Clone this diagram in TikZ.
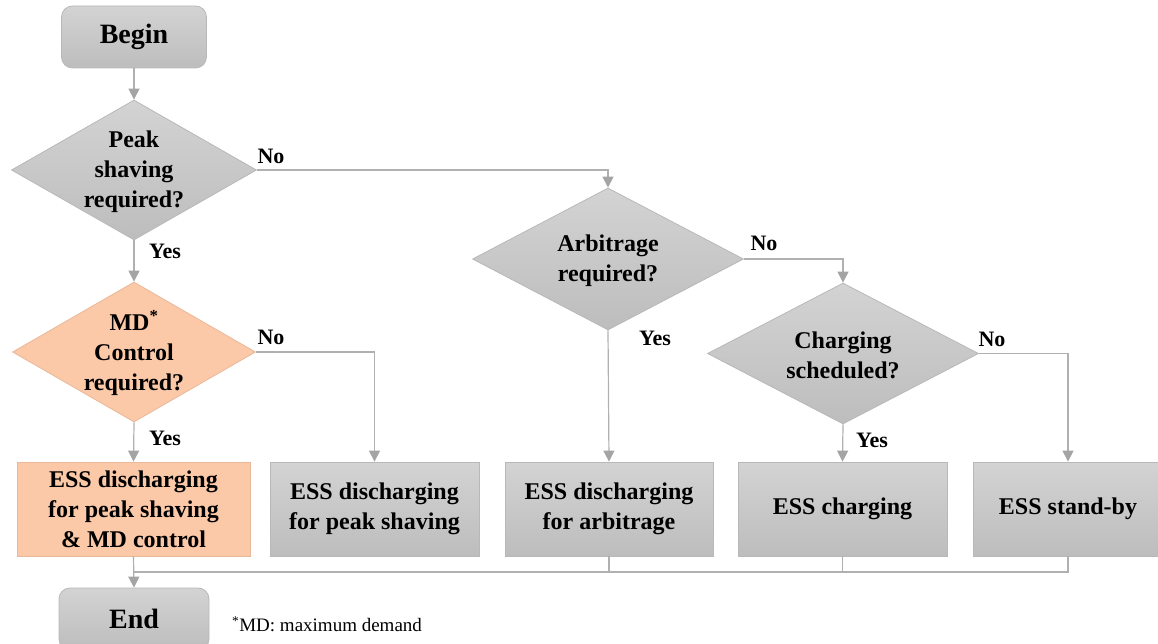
\documentclass[tikz,border=0pt]{standalone}
\usepackage{fontspec}
\setmainfont{LiberationSerif}[Extension=.ttf, UprightFont=*-Regular, BoldFont=*-Bold,
  ItalicFont=*-Italic, BoldItalicFont=*-BoldItalic]
\usetikzlibrary{shapes.geometric,arrows.meta}

\definecolor{boxtop}{HTML}{D3D3D3}
\definecolor{boxbot}{HTML}{BDBDBD}
\definecolor{boxedge}{HTML}{B8B8B8}
\definecolor{peach}{HTML}{FBC8A8}
\definecolor{peachedge}{HTML}{E8B898}
\definecolor{wire}{HTML}{B0B0B0}
\definecolor{tipgray}{HTML}{A4A4A4}

\tikzset{
  boxfont/.style={font=\bfseries\fontsize{24}{30}\selectfont},
  grayfill/.style={top color=boxtop, bottom color=boxbot, draw=boxedge, line width=0.8pt},
  peachfill/.style={fill=peach, draw=peachedge, line width=0.8pt},
  terminal/.style={grayfill, rectangle, rounded corners=11pt, inner sep=0pt,
    font=\bfseries\fontsize{28}{30}\selectfont},
  actionbox/.style={rectangle, inner sep=0pt, minimum height=94pt, align=center, boxfont},
  decision/.style={diamond, inner sep=0pt, align=center},
  dlabel/.style={align=center, boxfont, inner sep=0pt},
  answer/.style={font=\bfseries\fontsize{22}{24}\selectfont, inner sep=0pt},
  flow/.style={draw=wire, line width=1.2pt,
    -{Triangle[width=11pt,length=11pt,fill=tipgray,color=tipgray]}},
  bus/.style={draw=wire, line width=1.2pt},
}

\begin{document}
\begin{tikzpicture}[x=1pt, y=-1pt]
\useasboundingbox (0,0) rectangle (1158,644);
\clip (0,0) rectangle (1158,644);

% terminals
\node[terminal, minimum width=145pt, minimum height=62pt] (begin) at (134,37) {Begin};
\node[terminal, minimum width=150pt, minimum height=62pt] (end) at (134,619) {End};

% decisions
\node[decision, grayfill, minimum width=245pt, minimum height=140pt] (peak) at (134,170)
  {\phantom{x}};
\node[dlabel] (peaktxt) at (134,172) {Peak\\shaving\\required?};

\node[decision, peachfill, minimum width=243pt, minimum height=140pt] (md) at (134,352)
  {\phantom{x}};
\node[dlabel] (mdtxt) at (134,353) {MD\textsuperscript{*}\\Control\\required?};

\node[decision, grayfill, minimum width=271pt, minimum height=142pt] (arb) at (608,259)
  {\phantom{x}};
\node[dlabel] (arbtxt) at (608,261) {Arbitrage\\required?};

\node[decision, grayfill, minimum width=271pt, minimum height=141pt] (chg) at (843,353.5)
  {\phantom{x}};
\node[dlabel] (chgtxt) at (843,355) {Charging\\scheduled?};

% actions
\node[actionbox, peachfill, minimum width=233pt] (mdact) at (133.5,509)
  {ESS discharging\\for peak shaving\\\& MD control};
\node[actionbox, grayfill, minimum width=209pt] (peakact) at (374.5,509)
  {ESS discharging\\for peak shaving};
\node[actionbox, grayfill, minimum width=208pt] (arbact) at (609,509)
  {ESS discharging\\for arbitrage};
\node[actionbox, grayfill, minimum width=209pt] (chgact) at (842.5,509)
  {ESS charging};
\node[actionbox, grayfill, minimum width=190pt] (stby) at (1068,509)
  {ESS stand-by};

% connectors
\draw[flow] (begin.south) -- (peak.north);
\draw[flow] (peak.east) -| (arb.north);
\draw[flow] (peak.south) -- (md.north);
\draw[flow] (md.east) -| (peakact.north);
\draw[flow] (md.south) -- (mdact.north);
\draw[flow] (arb.east) -| (chg.north);
\draw[flow] (arb.south) -- (arbact.north);
\draw[flow] (chg.south) -- (chgact.north);
\draw[flow] (chg.east) -| (stby.north);

% collecting line towards the end terminal
\coordinate (join) at (134,572);
\draw[bus] (arbact.south) |- (join);
\draw[bus] (chgact.south) |- (join);
\draw[bus] (stby.south) |- (join);
\draw[flow] (mdact.south) -- (end.north);

% branch answers
\node[answer] (peakno)  at (271,156) {No};
\node[answer] (peakyes) at (165,251) {Yes};
\node[answer] (mdno)    at (271,337) {No};
\node[answer] (mdyes)   at (165,438) {Yes};
\node[answer] (arbno)   at (764,243) {No};
\node[answer] (arbyes)  at (655,338) {Yes};
\node[answer] (chgno)   at (992,339) {No};
\node[answer] (chgyes)  at (872,440) {Yes};

% footnote
\node[anchor=west, inner sep=0pt, font=\fontsize{19}{22}\selectfont] (note) at (232,624)
  {\textsuperscript{*}MD: maximum demand};
\end{tikzpicture}
\end{document}
